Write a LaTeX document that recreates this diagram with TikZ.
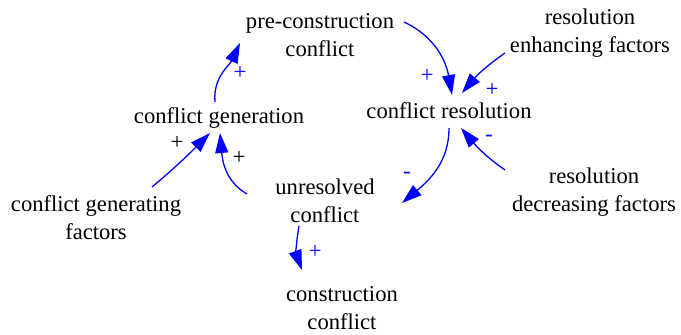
\documentclass[tikz,border=0pt]{standalone}
\usepackage{fontspec}
\setmainfont{Liberation Serif}
\usepackage{xcolor}
\usetikzlibrary{arrows.meta}

\begin{document}
\begin{tikzpicture}[x=1pt, y=1pt,
        var/.style={align=center, inner sep=0pt, font=\fontsize{22.6}{28}\selectfont},
        link/.style={blue, line width=1.3pt, -{Triangle[length=20pt, width=13pt]}},
        sign/.style={inner sep=0pt, font=\fontsize{23}{26}\selectfont}]
        \useasboundingbox (0,0) rectangle (681,335);

        % variables
        \node[var] (pre) at (320,300) {pre-construction\\conflict};
        \node[var] (gen) at (219,217) {conflict generation};
        \node[var] (res) at (449,224.5) {conflict resolution};
        \node[var] (enh) at (590,302) {resolution\\enhancing factors};
        \node[var] (dec) at (594,143) {resolution\\decreasing factors};
        \node[var] (cgf) at (96,117) {conflict generating\\factors};
        \node[var] (unr) at (325,134) {unresolved\\conflict};
        \node[var] (con) at (342,27) {construction\\conflict};

        % links
        \draw[link] ([shift={(-4,16)}]gen.center) to[out=95, in=-115] ([shift={(-80,-8)}]pre.center);
        \draw[link] ([shift={(84,13)}]pre.center) to[out=-25, in=100] ([shift={(3,15.5)}]res.center);
        \draw[link] ([shift={(-85,-20)}]enh.center) to[out=-145, in=50] ([shift={(13,17.5)}]res.center);
        \draw[link] ([shift={(-89,22)}]dec.center) to[out=145, in=-50] ([shift={(12,-17.5)}]res.center);
        \draw[link] ([shift={(0,-17.5)}]res.center) to[out=-90, in=40] ([shift={(77,-2)}]unr.center);
        \draw[link] ([shift={(-26,-25)}]unr.center) to[out=-100, in=110] ([shift={(-40,38)}]con.center);
        \draw[link] ([shift={(56,31)}]cgf.center) to[out=40, in=-135] ([shift={(-9,-15)}]gen.center);
        \draw[link] ([shift={(-78,7)}]unr.center) to[out=150, in=-85] ([shift={(1,-15)}]gen.center);

        % polarities
        \node[sign, blue] (s1) at (240,262) {+};
        \node[sign, blue] (s2) at (427,259) {+};
        \node[sign, blue] (s3) at (492,245) {+};
        \node[sign, blue] (s4) at (489,197) {-};
        \node[sign, blue] (s5) at (407,160) {-};
        \node[sign, blue] (s6) at (315,83) {+};
        \node[sign] (s7) at (177,192) {+};
        \node[sign] (s8) at (239,177) {+};
    \end{tikzpicture}
\end{document}
